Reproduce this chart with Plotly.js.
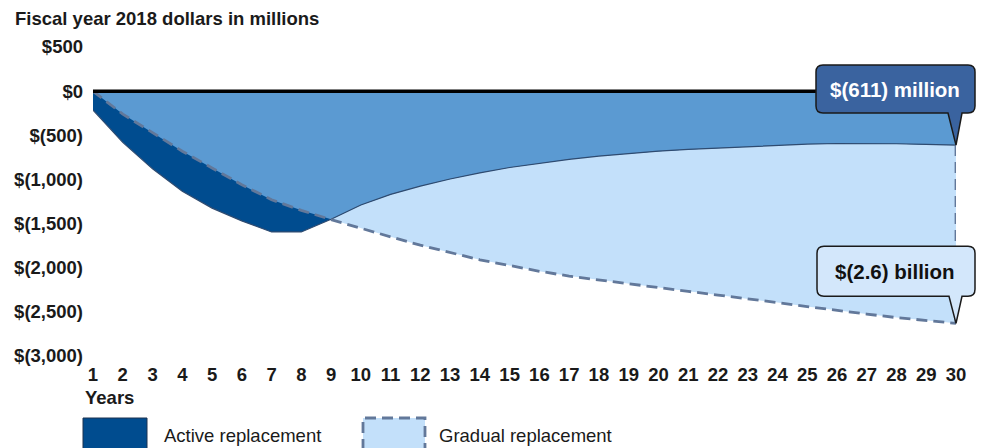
<!DOCTYPE html>
<html>
<head>
<meta charset="utf-8">
<script src="https://cdn.plot.ly/plotly-3.0.1.min.js"></script>
<style>html,body{margin:0;padding:0;background:#fff;}#chart{width:984px;height:448px;}</style>
</head>
<body>
<div id="chart"></div>
<script>
// ---- data ----
const years = [1,2,3,4,5,6,7,8,9,10,11,12,13,14,15,16,17,18,19,20,21,22,23,24,25,26,27,28,29,30];
const activeReplacement = [-215,-580,-880,-1135,-1325,-1470,-1595,-1595,-1451,-1290,-1170,-1075,-995,-925,-865,-815,-772,-735,-705,-680,-660,-643,-628,-612,-600,-593,-592,-596,-603,-611];
const gradualReplacement = [0,-260,-470,-680,-870,-1060,-1230,-1350,-1455,-1555,-1650,-1745,-1830,-1910,-1975,-2040,-2095,-2140,-2185,-2230,-2268,-2310,-2350,-2395,-2440,-2485,-2525,-2565,-2600,-2630];
const seriesNames = ['Active replacement', 'Gradual replacement'];
const yTickVals = [500, 0, -500, -1000, -1500, -2000, -2500, -3000];
const yTickText = ['$500', '$0', '$(500)', '$(1,000)', '$(1,500)', '$(2,000)', '$(2,500)', '$(3,000)'];
const calloutTexts = ['$(611) million', '$(2.6) billion'];
const titleText = 'Fiscal year 2018 dollars in millions';
const xTitleText = 'Years';

// ---- styling ----
const FONT = '"Liberation Sans", Arial, sans-serif';
const DARK = '#004c8f', MID = '#5b9ad2', LIGHT = '#c3e0fa', DASH = '#62789a';
const DASHPAT = '11px,6px';
const Y_RANGE = [-3000, 500];
const PLOT = {l: 93, r: 28, t: 47, b: 92, w: 984, h: 448};
const plotW = PLOT.w - PLOT.l - PLOT.r, plotH = PLOT.h - PLOT.t - PLOT.b;
const px = v => (v - PLOT.l) / plotW;
const py = v => (PLOT.h - PLOT.b - v) / plotH;
const yPaper = v => (v - Y_RANGE[0]) / (Y_RANGE[1] - Y_RANGE[0]);

// common area of both series (region filled by both)
const overlap = activeReplacement.map((a, i) => Math.max(a, gradualReplacement[i]));
const last = years.length - 1;

const traces = [
  {x: years, y: gradualReplacement, type: 'scatter', mode: 'lines', fill: 'tozeroy', fillcolor: LIGHT, line: {width: 0}, hoverinfo: 'skip', showlegend: false},
  {x: years, y: activeReplacement, type: 'scatter', mode: 'lines', fill: 'tozeroy', fillcolor: DARK, line: {width: 0}, hoverinfo: 'skip', showlegend: false},
  {x: years, y: overlap, type: 'scatter', mode: 'lines', fill: 'tozeroy', fillcolor: MID, line: {width: 0}, hoverinfo: 'skip', showlegend: false},
  {x: years, y: activeReplacement, type: 'scatter', mode: 'lines', name: seriesNames[0], line: {color: '#2f4b70', width: 1.2}, showlegend: false},
  {x: years, y: gradualReplacement, type: 'scatter', mode: 'lines', name: seriesNames[1], line: {color: DASH, width: 2.8, dash: DASHPAT}, showlegend: false},
  {x: [years[last], years[last]], y: [activeReplacement[last], gradualReplacement[last]], type: 'scatter', mode: 'lines', line: {color: DASH, width: 2.8, dash: DASHPAT}, hoverinfo: 'skip', showlegend: false}
];

function callout(tipY, left, right, bottom, top, tl, tr, fill) {
  const r = 7;
  const path = `M 0,0 L ${tl},${bottom} L ${left + r},${bottom} Q ${left},${bottom} ${left},${bottom + r} L ${left},${top - r} Q ${left},${top} ${left + r},${top} L ${right - r},${top} Q ${right},${top} ${right},${top - r} L ${right},${bottom + r} Q ${right},${bottom} ${right - r},${bottom} L ${tr},${bottom} Z`;
  return {type: 'path', xref: 'paper', yref: 'paper', xsizemode: 'pixel', ysizemode: 'pixel', xanchor: 1, yanchor: yPaper(tipY), path: path, fillcolor: fill, line: {color: '#1a1a1a', width: 1.5}, layer: 'above'};
}

const shapes = [
  {type: 'line', xref: 'paper', yref: 'y', x0: 0, x1: 1, y0: 0, y1: 0, line: {color: '#000', width: 3.5}, layer: 'above'},
  callout(activeReplacement[last], -140, 19, 32, 80, -8, 6, '#3a639f'),
  callout(gradualReplacement[last], -139, 19, 27, 77, -7, 6, '#d3e7fb'),
  {type: 'rect', xref: 'paper', yref: 'paper', x0: px(83), x1: px(147), y0: py(460), y1: py(418), fillcolor: DARK, line: {color: '#1c3350', width: 1}, layer: 'above'},
  {type: 'rect', xref: 'paper', yref: 'paper', x0: px(363), x1: px(425), y0: py(460), y1: py(418), fillcolor: LIGHT, line: {color: DASH, width: 2.8, dash: DASHPAT}, layer: 'above'}
];

const annotations = [
  {text: calloutTexts[0], xref: 'paper', x: 1, xshift: -61, yref: 'y', y: activeReplacement[last], yshift: 56, showarrow: false, xanchor: 'center', yanchor: 'middle', font: {family: FONT, size: 20.5, color: '#ffffff', weight: 'bold'}},
  {text: calloutTexts[1], xref: 'paper', x: 1, xshift: -61, yref: 'y', y: gradualReplacement[last], yshift: 52, showarrow: false, xanchor: 'center', yanchor: 'middle', font: {family: FONT, size: 20.5, color: '#111111', weight: 'bold'}},
  {text: xTitleText, xref: 'paper', x: px(83), yref: 'paper', y: py(397), showarrow: false, xanchor: 'left', yanchor: 'middle', font: {family: FONT, size: 18.5, color: '#1a1a1a', weight: 'bold'}},
  {text: seriesNames[0], xref: 'paper', x: px(162), yref: 'paper', y: py(435), showarrow: false, xanchor: 'left', yanchor: 'middle', font: {family: FONT, size: 18.5, color: '#1a1a1a'}},
  {text: seriesNames[1], xref: 'paper', x: px(437), yref: 'paper', y: py(435), showarrow: false, xanchor: 'left', yanchor: 'middle', font: {family: FONT, size: 18.5, color: '#1a1a1a'}}
];

const layout = {
  width: PLOT.w, height: PLOT.h,
  margin: {l: PLOT.l, r: PLOT.r, t: PLOT.t, b: PLOT.b, pad: 0},
  paper_bgcolor: '#ffffff', plot_bgcolor: '#ffffff',
  showlegend: false,
  title: {text: titleText, xref: 'container', yref: 'container', x: 15 / PLOT.w, xanchor: 'left', y: 1 - 19 / PLOT.h, yanchor: 'middle', font: {family: FONT, size: 18.5, color: '#1a1a1a', weight: 'bold'}},
  xaxis: {range: [years[0], years[last]], tickmode: 'array', tickvals: years, ticktext: years.map(String), showgrid: false, zeroline: false, showline: false, ticks: '', ticklabelstandoff: 5, tickfont: {family: FONT, size: 18.5, color: '#1a1a1a', weight: 'bold'}, fixedrange: true},
  yaxis: {range: Y_RANGE, tickmode: 'array', tickvals: yTickVals, ticktext: yTickText, showgrid: false, zeroline: false, showline: false, ticks: '', ticklabelstandoff: 9, tickfont: {family: FONT, size: 18.5, color: '#1a1a1a', weight: 'bold'}, fixedrange: true},
  shapes: shapes,
  annotations: annotations
};

Plotly.newPlot('chart', traces, layout, {staticPlot: true, displayModeBar: false});
</script>
</body>
</html>
